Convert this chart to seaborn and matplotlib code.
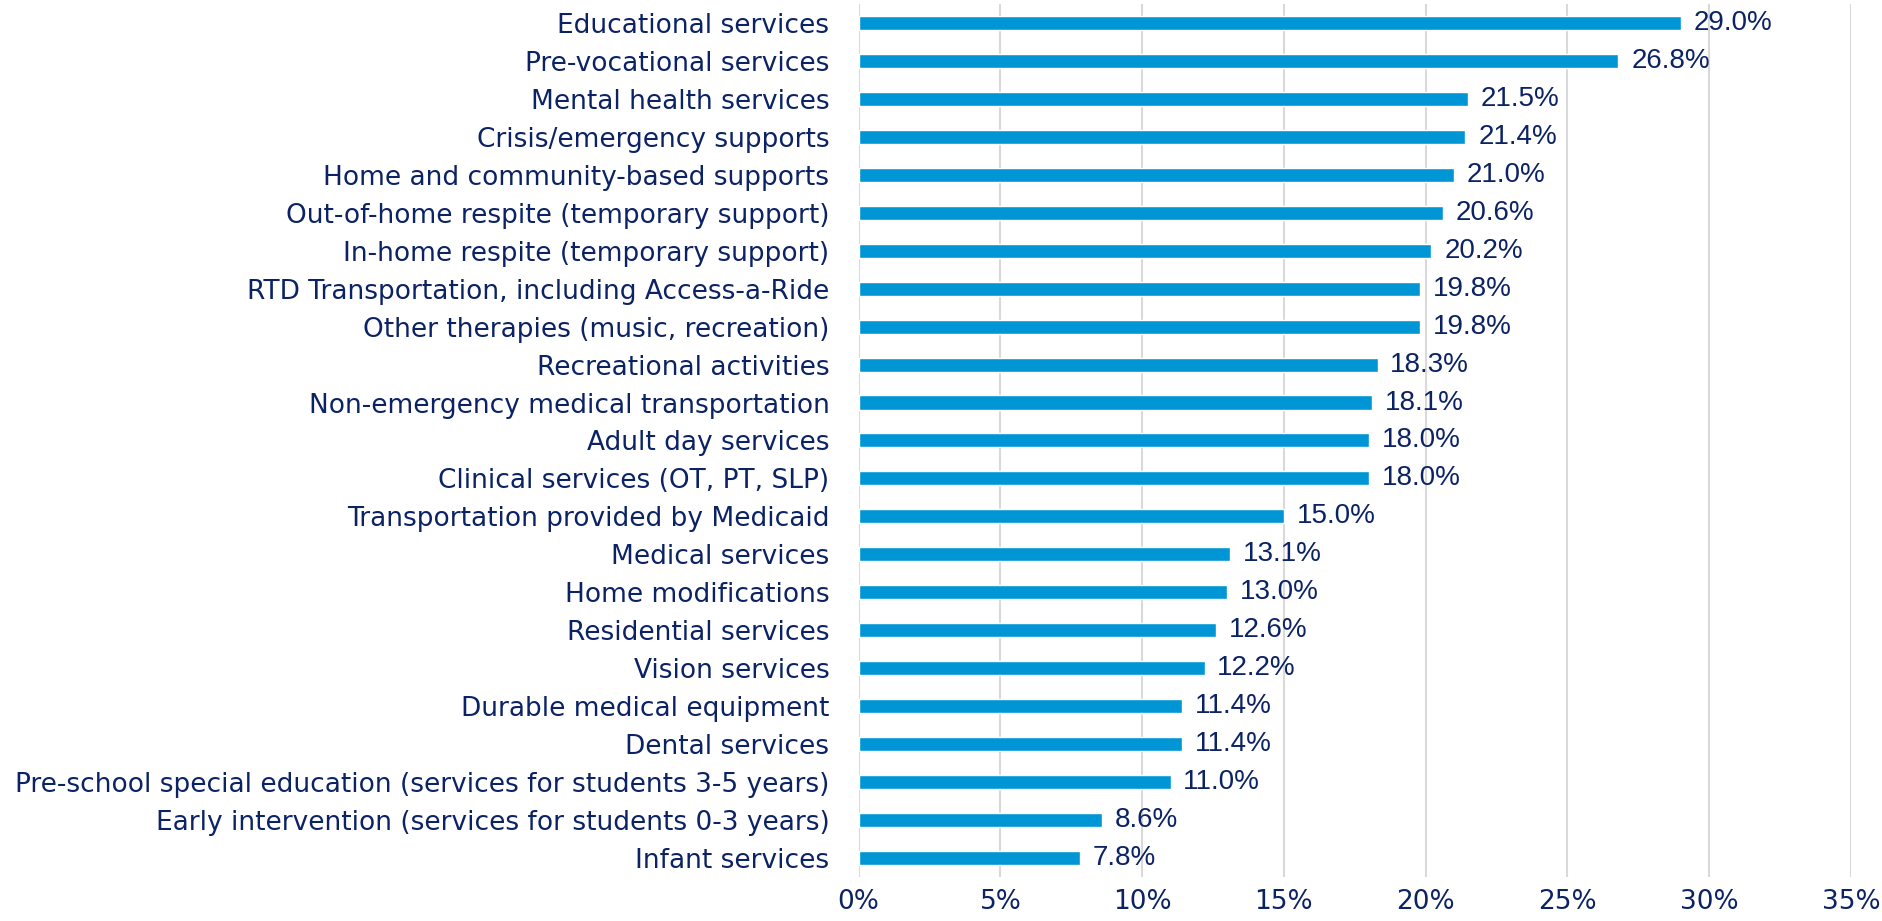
import matplotlib
matplotlib.use("Agg")
import matplotlib.pyplot as plt
import seaborn as sns
import pandas as pd

categories = [
    "Educational services",
    "Pre-vocational services",
    "Mental health services",
    "Crisis/emergency supports",
    "Home and community-based supports",
    "Out-of-home respite (temporary support)",
    "In-home respite (temporary support)",
    "RTD Transportation, including Access-a-Ride",
    "Other therapies (music, recreation)",
    "Recreational activities",
    "Non-emergency medical transportation",
    "Adult day services",
    "Clinical services (OT, PT, SLP)",
    "Transportation provided by Medicaid",
    "Medical services",
    "Home modifications",
    "Residential services",
    "Vision services",
    "Durable medical equipment",
    "Dental services",
    "Pre-school special education (services for students 3-5 years)",
    "Early intervention (services for students 0-3 years)",
    "Infant services",
]
percentages = [29.0, 26.8, 21.5, 21.4, 21.0, 20.6, 20.2, 19.8, 19.8, 18.3, 18.1,
               18.0, 18.0, 15.0, 13.1, 13.0, 12.6, 12.2, 11.4, 11.4, 11.0, 8.6, 7.8]
x_ticks = [0, 5, 10, 15, 20, 25, 30, 35]

BAR = "#0096D6"
NAVY = "#0B2265"
GRID = "#D9D9D9"

df = pd.DataFrame({"service": categories, "pct": percentages})

sns.set_theme(style="white")
plt.rcParams["font.family"] = ["DejaVu Sans"]

fig = plt.figure(figsize=(18.83, 9.21), dpi=100)
ax = fig.add_axes([0.456, 0.0478, 0.527, 0.9479])

sns.barplot(data=df, y="service", x="pct", orient="h", color=BAR,
            width=0.37, saturation=1, ax=ax)

ax.set_xlim(0, 35)
ax.set_ylim(len(categories) - 0.5, -0.5)
ax.set_xticks(x_ticks)
ax.set_xticklabels([f"{t}%" for t in x_ticks])
ax.set_xlabel("")
ax.set_ylabel("")

ax.xaxis.grid(True, color=GRID, linewidth=1.5)
ax.set_axisbelow(True)
for s in ax.spines.values():
    s.set_visible(False)

ax.tick_params(axis="y", length=0, pad=21, labelsize=19, labelcolor=NAVY)
ax.tick_params(axis="x", length=0, pad=9, labelsize=19, labelcolor=NAVY)

for i, v in enumerate(percentages):
    ax.text(v + 0.45, i, f"{v:.1f}%", va="center", ha="left",
            fontsize=20, color=NAVY, family=["Liberation Sans", "DejaVu Sans"])

fig.savefig("out.png", dpi=100)
